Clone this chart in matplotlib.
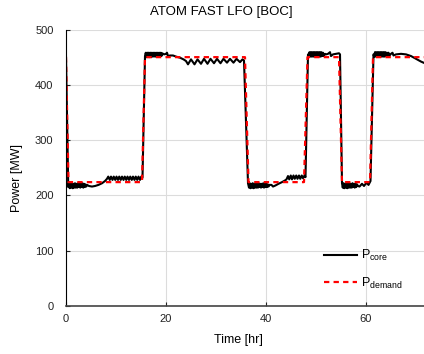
import numpy as np
import matplotlib
matplotlib.use('Agg')
import matplotlib.pyplot as plt

plt.rcParams['font.family'] = ['Liberation Sans', 'DejaVu Sans']
plt.rcParams['mathtext.fontset'] = 'custom'
plt.rcParams['mathtext.rm'] = 'Liberation Sans'

#%% demand profile [hr], [MW]
t_demand = [0, 0.5, 15.2, 15.8, 35.8, 36.5, 47.6, 48.3, 54.6, 55.2, 60.8, 61.4, 72]
p_demand = [450, 224, 224, 450, 450, 224, 224, 450, 450, 224, 224, 450, 450]

#%% core power
# drop at t=0 + chatter at low power
t_a = [0, 0.45, 0.6, 0.75, 0.9, 1.05, 1.2, 1.35, 1.5, 1.65, 1.8, 1.95, 2.1, 2.25,
       2.4, 2.55, 2.7, 2.85, 3.0, 3.15, 3.3, 3.45, 3.6, 3.75, 3.9, 4.05, 4.2,
       4.6, 5.2, 5.8, 6.5, 7.2, 7.8, 8.2,
       8.45, 8.75, 9.0, 9.3, 9.55, 9.85, 10.1, 10.4, 10.65, 10.95, 11.2, 11.5,
       11.75, 12.05, 12.3, 12.6, 12.85, 13.15, 13.4, 13.7, 13.95, 14.25, 14.5,
       14.8, 15.05, 15.3]
p_a = [450, 215, 222, 213, 221, 214, 222, 213, 221, 214, 222, 214, 221, 214,
       222, 215, 221, 214, 221, 215, 222, 214, 221, 215, 220, 216, 219,
       217, 216, 217, 219, 222, 226, 230,
       234, 228, 234, 228, 234, 228, 234, 228, 234, 228, 234, 228,
       234, 228, 234, 228, 234, 228, 234, 228, 234, 228, 234,
       228, 234, 232]

# first high-power block
t_b = [15.8, 15.95, 16.1, 16.25, 16.4, 16.55, 16.7, 16.85, 17.0, 17.15, 17.3,
       17.45, 17.6, 17.75, 17.9, 18.05, 18.2, 18.35, 18.5, 18.65, 18.8, 18.95,
       19.1, 19.25, 19.6, 20.0, 20.2, 20.4, 20.8, 21.4, 22.0, 22.8, 23.5, 24.0,
       24.4, 25.0, 25.7, 26.3, 27.0, 27.6, 28.3, 28.9, 29.6, 30.2, 30.9, 31.5,
       32.2, 32.8, 33.5, 34.1, 34.8, 35.3, 35.6]
p_b = [452, 458, 450, 458, 450, 458, 450, 458, 450, 458, 451,
       458, 451, 458, 451, 458, 451, 458, 451, 458, 451, 458,
       452, 457, 455, 456, 458, 452, 453, 453, 451, 449, 446, 443,
       437, 446, 437, 446, 438, 447, 438, 447, 439, 447, 439, 447,
       440, 447, 440, 447, 441, 446, 444]

# second low-power block
t_c = [36.4, 36.6, 36.75, 36.9, 37.05, 37.2, 37.35, 37.5, 37.65, 37.8, 37.95,
       38.1, 38.25, 38.4, 38.55, 38.7, 38.85, 39.0, 39.15, 39.3, 39.45, 39.6,
       39.75, 39.9, 40.05, 40.2, 40.35, 40.5, 40.7,
       41.1, 41.4, 41.9, 42.5, 43.2, 43.8, 44.1,
       44.4, 44.65, 44.95, 45.2, 45.5, 45.75, 46.05, 46.3, 46.6, 46.85, 47.15,
       47.4, 47.7, 47.9]
p_c = [222, 214, 222, 213, 221, 214, 222, 213, 221, 214, 222,
       214, 221, 214, 222, 215, 221, 214, 221, 215, 222, 214,
       221, 215, 221, 215, 220, 216, 219,
       219, 216, 218, 221, 224, 227, 229,
       235, 229, 236, 229, 236, 230, 236, 230, 236, 230, 236,
       231, 236, 233]

# second high-power block
t_d = [48.4, 48.55, 48.7, 48.85, 49.0, 49.15, 49.3, 49.45, 49.6, 49.75, 49.9,
       50.05, 50.2, 50.35, 50.5, 50.65, 50.8, 50.95, 51.1, 51.25, 51.4, 51.55,
       51.8, 52.0, 52.4, 52.8, 53.0, 53.4, 54.0, 54.6, 54.8]
p_d = [455, 451, 459, 451, 459, 451, 459, 451, 459, 451, 459,
       451, 459, 451, 459, 451, 459, 451, 459, 452, 458, 452,
       456, 455, 456, 459, 452, 455, 456, 457, 455]

# third low-power block
t_e = [55.2, 55.35, 55.5, 55.65, 55.8, 55.95, 56.1, 56.25, 56.4, 56.55, 56.7,
       56.85, 57.0, 57.15, 57.3, 57.45, 57.6, 57.75, 57.9, 58.05, 58.2, 58.4,
       58.7, 59.2, 59.6, 60.1, 60.5, 60.9]
p_e = [222, 214, 222, 213, 221, 214, 222, 213, 221, 214, 222,
       214, 221, 214, 222, 215, 221, 214, 221, 215, 220, 217,
       216, 221, 217, 223, 219, 226]

# last high-power block
t_f = [61.5, 61.65, 61.8, 61.95, 62.1, 62.25, 62.4, 62.55, 62.7, 62.85, 63.0,
       63.15, 63.3, 63.45, 63.6, 63.75, 63.9, 64.05, 64.2, 64.35, 64.5, 64.7,
       65.0, 65.3, 65.5, 66.0, 67.0, 68.0, 69.0, 70.0, 71.0, 72.0]
p_f = [455, 451, 459, 451, 459, 451, 459, 451, 459, 451, 459,
       451, 459, 451, 459, 451, 459, 452, 458, 452, 458, 453,
       456, 458, 453, 455, 456, 455, 452, 447, 442, 438]

t_core = t_a + t_b + t_c + t_d + t_e + t_f
p_core = p_a + p_b + p_c + p_d + p_e + p_f

#%% plot
fig = plt.figure(figsize=(4.24, 3.54), dpi=100)
ax = fig.add_axes([66/424, 48/354, 358/424, 276.5/354])

ax.plot(t_core, p_core, color='black', lw=1.5, label=r'$\mathregular{P_{core}}$')
ax.plot(t_demand, p_demand, color='red', lw=1.6, dashes=(2.4, 1.9),
        label=r'$\mathregular{P_{demand}}$')

ax.set_xlim(0, 71.6)
ax.set_ylim(0, 500)
ax.set_xticks([0, 20, 40, 60])
ax.set_yticks([0, 100, 200, 300, 400, 500])
ax.grid(True, color='#dcdcdc', lw=0.8)
ax.set_axisbelow(True)
ax.tick_params(direction='in', length=3, labelsize=8, colors='#222222')
ax.tick_params(axis='y', pad=9)
ax.tick_params(axis='x', pad=6)
for s in ['top', 'right']:
    ax.spines[s].set_visible(False)
ax.spines['left'].set_color('black')
ax.spines['bottom'].set_color('#444444')
ax.spines['bottom'].set_linewidth(1.2)

fig.text(221/424, 1 - 11.5/354, 'ATOM FAST LFO [BOC]', ha='center', va='center', fontsize=9.5)
fig.text(238/424, 1 - 340/354, 'Time [hr]', ha='center', va='center', fontsize=9)
fig.text(17/424, 1 - 178/354, 'Power [MW]', ha='center', va='center', rotation=90, fontsize=9)

ax.legend(loc='lower left', bbox_to_anchor=(0.69, 0.015), frameon=False, fontsize=9,
          handlelength=2.6, labelspacing=1.0, handletextpad=0.3)

fig.savefig('out.png', dpi=100)
